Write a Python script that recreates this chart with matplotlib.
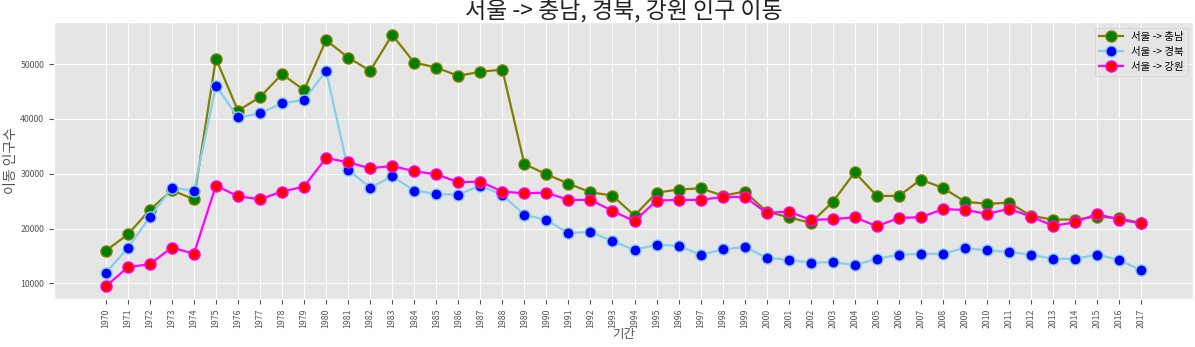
import matplotlib
matplotlib.use('Agg')
import matplotlib.pyplot as plt

years = [str(y) for y in range(1970, 2018)]

# 서울 -> 충남
chungnam = [15954, 18943, 23417, 27000, 25347, 51017, 41494, 43990, 48176, 45264,
            54366, 51203, 48777, 55330, 50289, 49379, 47866, 48594, 49013, 31792,
            29909, 28205, 26628, 26020, 22380, 26567, 27113, 27355, 26020, 26749,
            23108, 22070, 21050, 24869, 30273, 25960, 25960, 28933, 27422, 24928,
            24505, 24747, 22320, 21652, 21652, 22197, 21894, 20989]
# 서울 -> 경북
gyeongbuk = [11875, 16500, 22070, 27476, 26870, 46046, 40280, 41010, 42896, 43442,
             48777, 30754, 27422, 29538, 26930, 26323, 26202, 27840, 26142, 22507,
             21597, 19157, 19400, 17701, 16135, 17045, 16864, 15225, 16190, 16681,
             14679, 14315, 13769, 13890, 13345, 14497, 15225, 15407, 15407, 16500,
             16008, 15771, 15225, 14497, 14497, 15225, 14315, 12367]
# 서울 -> 강원
gangwon = [9454, 12967, 13514, 16554, 15407, 27840, 25900, 25347, 26749, 27658,
           32883, 32093, 31001, 31426, 30455, 29909, 28453, 28570, 26749, 26446,
           26567, 25233, 25233, 23234, 21342, 25110, 25233, 25233, 25780, 25780,
           22869, 23108, 21597, 21706, 22070, 20431, 21950, 22070, 23537, 23417,
           22689, 23598, 22197, 20504, 21160, 22689, 21597, 20989]

plt.style.use('ggplot')
plt.rcParams['font.family'] = ['Noto Sans CJK KR', 'DejaVu Sans']
plt.rcParams['axes.unicode_minus'] = False

fig = plt.figure(figsize=(11.95, 3.47), dpi=100)
ax = fig.add_axes([0.0452, 0.1383, 0.9531, 0.7974])

ax.plot(years, chungnam, marker='o', markerfacecolor='green', markersize=8,
        color='olive', linewidth=1.6, label='서울 -> 충남')
ax.plot(years, gyeongbuk, marker='o', markerfacecolor='blue', markersize=8,
        color='skyblue', linewidth=1.6, label='서울 -> 경북')
ax.plot(years, gangwon, marker='o', markerfacecolor='red', markersize=8,
        color='magenta', linewidth=1.6, label='서울 -> 강원')

ax.legend(loc='upper right', fontsize=7.5, handlelength=2.3)
ax.set_title('서울 -> 충남, 경북, 강원 인구 이동', size=16.5, color='#222222', pad=3)
ax.set_xlabel('기간', size=9, labelpad=0)
ax.set_ylabel('이동 인구수', size=10, labelpad=2)
ax.set_yticks([10000, 20000, 30000, 40000, 50000])
ax.tick_params(axis='x', labelsize=6.3, rotation=90)
ax.tick_params(axis='y', labelsize=6.3)

fig.savefig('out.png', dpi=100)
